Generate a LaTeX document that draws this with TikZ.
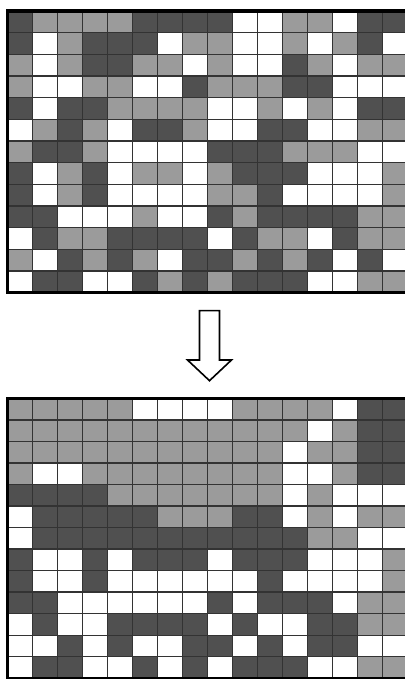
\documentclass[tikz,border=0pt]{standalone}
\usepackage{tikz}
\definecolor{cellD}{RGB}{80,80,80}
\definecolor{cellL}{RGB}{155,155,155}
\definecolor{cellW}{RGB}{255,255,255}
\tikzset{
  cellline/.style={line width=0.7pt,draw=black!80},
  frameline/.style={line width=1.7pt,draw=black},
  bigarrow/.style={line width=0.8pt,draw=black,fill=white,line join=miter}
}

\begin{document}
\begin{tikzpicture}[x=0.5pt,y=0.5pt]
\useasboundingbox (0,0) rectangle (405,679);

% before: mixed pattern
\begin{scope}[shift={(7.5,668)},x=12.5pt,y=-10.83pt]
  \foreach \row [count=\r] in {
    {D,L,L,L,L,D,D,D,D,W,W,L,L,W,D,D},
    {D,W,L,D,D,D,W,L,L,W,W,L,W,L,D,W},
    {L,W,L,D,D,L,L,W,L,W,W,D,L,W,L,L},
    {L,W,W,L,L,W,W,D,L,L,L,D,D,W,W,W},
    {D,W,D,D,L,L,L,L,W,W,L,W,L,W,D,D},
    {W,L,D,L,W,D,D,L,W,W,D,D,W,W,L,L},
    {L,D,D,L,W,W,W,W,D,D,D,L,L,L,W,W},
    {D,W,L,D,W,L,L,W,L,D,D,D,W,W,W,L},
    {D,W,L,D,W,W,W,W,L,L,D,W,W,W,W,L},
    {D,D,W,W,W,L,W,W,D,L,D,D,D,D,L,L},
    {W,D,L,L,D,D,D,D,W,D,L,L,W,D,L,L},
    {L,W,D,L,D,L,W,D,D,L,D,L,D,W,D,W},
    {W,D,D,W,W,D,L,D,L,D,D,D,W,W,L,L}}{
    \foreach \c [count=\i] in \row{
      \fill[fill=cell\c] (\i-1,\r-1) rectangle (\i,\r);
    }
  }
  \foreach \i in {1,...,15}{
    \draw[cellline] (\i,0) -- (\i,13);
  }
  \foreach \r in {1,...,12}{
    \draw[cellline] (0,\r) -- (16,\r);
  }
  \draw[frameline] (0,0) rectangle (16,13);
\end{scope}

% arrow between the grids
\coordinate (sTL) at (199.5,368.3);
\coordinate (sTR) at (219.5,368.3);
\coordinate (hR)  at (231.5,319);
\coordinate (hL)  at (187.5,319);
\coordinate (tip) at (209.5,298.3);
\draw[bigarrow] (sTL) -- (sTR) -- (219.5,319) -- (hR) -- (tip)
                -- (hL) -- (199.5,319) -- cycle;

% after: sorted pattern
\begin{scope}[shift={(7.5,280.7)},x=12.5pt,y=-10.77pt]
  \foreach \row [count=\r] in {
    {L,L,L,L,L,W,W,W,W,L,L,L,L,W,D,D},
    {L,L,L,L,L,L,L,L,L,L,L,L,W,L,D,D},
    {L,L,L,L,L,L,L,L,L,L,L,W,L,L,D,D},
    {L,W,W,L,L,L,L,L,L,L,L,W,W,L,D,D},
    {D,D,D,D,L,L,L,L,L,L,L,W,L,W,W,W},
    {W,D,D,D,D,D,L,L,L,D,D,W,L,W,L,L},
    {W,D,D,D,D,D,D,D,D,D,D,D,L,L,W,W},
    {D,W,W,D,W,D,D,D,W,D,D,D,W,W,W,L},
    {D,W,W,D,W,W,W,W,W,W,D,W,W,W,W,L},
    {D,D,W,W,W,W,W,W,D,W,D,D,D,W,L,L},
    {W,D,W,W,D,D,D,D,W,D,W,W,D,D,L,L},
    {W,W,D,W,D,W,W,D,D,W,D,W,D,D,W,W},
    {W,D,D,W,W,D,W,D,W,D,D,D,W,W,L,L}}{
    \foreach \c [count=\i] in \row{
      \fill[fill=cell\c] (\i-1,\r-1) rectangle (\i,\r);
    }
  }
  \foreach \i in {1,...,15}{
    \draw[cellline] (\i,0) -- (\i,13);
  }
  \foreach \r in {1,...,12}{
    \draw[cellline] (0,\r) -- (16,\r);
  }
  \draw[frameline] (0,0) rectangle (16,13);
\end{scope}

\end{tikzpicture}
\end{document}
